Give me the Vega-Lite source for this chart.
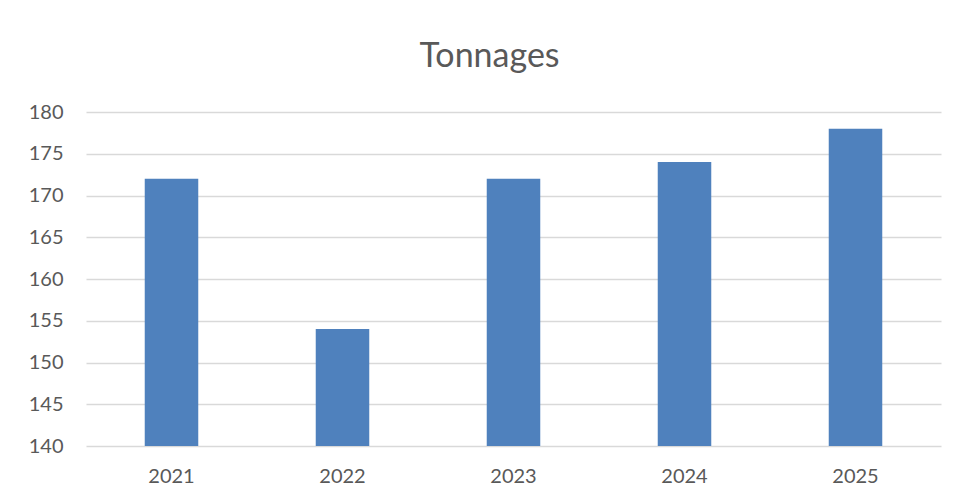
{
  "$schema": "https://vega.github.io/schema/vega-lite/v6.json",
  "width": 855,
  "height": 334,
  "autosize": {"type": "none"},
  "padding": {"left": 86, "top": 112, "right": 16, "bottom": 56},
  "background": "white",
  "title": {
    "text": "Tonnages",
    "font": "Lato",
    "fontSize": 34,
    "fontWeight": "normal",
    "color": "#595959",
    "anchor": "middle",
    "dx": -24,
    "offset": 28
  },
  "data": {
    "values": [
      {"year": "2021", "tonnage": 172},
      {"year": "2022", "tonnage": 154},
      {"year": "2023", "tonnage": 172},
      {"year": "2024", "tonnage": 174},
      {"year": "2025", "tonnage": 178}
    ]
  },
  "mark": {"type": "bar", "color": "#4F81BD", "clip": true},
  "encoding": {
    "x": {
      "field": "year",
      "type": "nominal",
      "scale": {"paddingInner": 0.687, "paddingOuter": 0.3435},
      "axis": {
        "title": null,
        "labelAngle": 0,
        "labelFont": "Lato",
        "labelFontSize": 20,
        "labelColor": "#595959",
        "labelPadding": 20,
        "ticks": false,
        "domain": false
      }
    },
    "y": {
      "field": "tonnage",
      "type": "quantitative",
      "scale": {"domain": [140, 180], "zero": false, "nice": false},
      "axis": {
        "title": null,
        "values": [140, 145, 150, 155, 160, 165, 170, 175, 180],
        "labelFont": "Lato",
        "labelFontSize": 20,
        "labelColor": "#595959",
        "labelPadding": 23,
        "ticks": false,
        "domain": false,
        "gridColor": "#D9D9D9",
        "gridWidth": 1.3
      }
    }
  },
  "config": {"view": {"stroke": null}}
}
